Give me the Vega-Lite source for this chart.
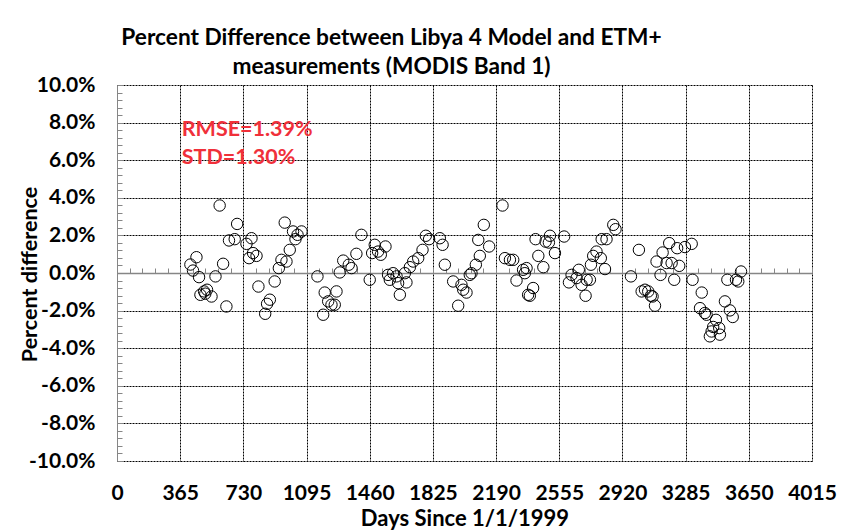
{
  "$schema": "https://vega.github.io/schema/vega-lite/v6.json",
  "width": 695,
  "height": 376,
  "autosize": {"type": "none"},
  "padding": {"left": 117, "top": 85, "right": 34, "bottom": 70},
  "background": "white",
  "config": {"view": {"stroke": null}, "font": "Lato"},
  "title": {
    "text": ["Percent Difference between Libya 4 Model and ETM+", "measurements (MODIS Band 1)"],
    "font": "Lato",
    "fontSize": 22.7,
    "fontWeight": "bold",
    "color": "black",
    "anchor": "middle",
    "dx": -73,
    "offset": -5,
    "lineHeight": 29
  },
  "resolve": {"axis": {"x": "independent"}},
  "layer": [
    {
      "data": {"values": [
        {"day": 424, "pct": 0.45}, {"day": 439, "pct": 0.13}, {"day": 459, "pct": 0.84}, {"day": 474, "pct": -0.22},
        {"day": 482, "pct": -1.16}, {"day": 503, "pct": -0.98}, {"day": 510, "pct": -1.1}, {"day": 520, "pct": -0.89},
        {"day": 546, "pct": -1.25}, {"day": 569, "pct": -0.18}, {"day": 593, "pct": 3.59}, {"day": 613, "pct": 0.49},
        {"day": 632, "pct": -1.78}, {"day": 647, "pct": 1.73}, {"day": 680, "pct": 1.8}, {"day": 694, "pct": 2.61},
        {"day": 748, "pct": 1.55}, {"day": 777, "pct": 1.85}, {"day": 786, "pct": 1.06}, {"day": 763, "pct": 0.79},
        {"day": 806, "pct": 0.91}, {"day": 817, "pct": -0.72}, {"day": 856, "pct": -2.17}, {"day": 867, "pct": -1.64},
        {"day": 883, "pct": -1.42}, {"day": 911, "pct": -0.45}, {"day": 935, "pct": 0.26}, {"day": 950, "pct": 0.7},
        {"day": 969, "pct": 2.68}, {"day": 979, "pct": 0.61}, {"day": 998, "pct": 1.23}, {"day": 1017, "pct": 2.21},
        {"day": 1031, "pct": 1.8}, {"day": 1043, "pct": 2.03}, {"day": 1066, "pct": 2.21}, {"day": 1158, "pct": -0.18},
        {"day": 1191, "pct": -2.22}, {"day": 1200, "pct": -1.04}, {"day": 1220, "pct": -1.51}, {"day": 1239, "pct": -1.69},
        {"day": 1258, "pct": -1.69}, {"day": 1268, "pct": -0.98}, {"day": 1287, "pct": 0.03}, {"day": 1307, "pct": 0.66},
        {"day": 1339, "pct": 0.44}, {"day": 1355, "pct": 0.26}, {"day": 1383, "pct": 1.02}, {"day": 1412, "pct": 2.03},
        {"day": 1460, "pct": -0.36}, {"day": 1474, "pct": 1.06}, {"day": 1489, "pct": 1.5}, {"day": 1508, "pct": 1.14},
        {"day": 1524, "pct": 0.97}, {"day": 1551, "pct": 1.41}, {"day": 1566, "pct": -0.1}, {"day": 1576, "pct": -0.36},
        {"day": 1595, "pct": -0.01}, {"day": 1615, "pct": -0.18}, {"day": 1624, "pct": -0.54}, {"day": 1634, "pct": -1.16},
        {"day": 1663, "pct": -0.01}, {"day": 1672, "pct": -0.5}, {"day": 1692, "pct": 0.31}, {"day": 1711, "pct": 0.61},
        {"day": 1740, "pct": 0.79}, {"day": 1765, "pct": 1.23}, {"day": 1784, "pct": 1.98}, {"day": 1803, "pct": 1.8},
        {"day": 1865, "pct": 1.85}, {"day": 1881, "pct": 1.5}, {"day": 1894, "pct": 0.44}, {"day": 1942, "pct": -0.45},
        {"day": 1971, "pct": -1.74}, {"day": 1990, "pct": -0.63}, {"day": 2000, "pct": -0.89}, {"day": 2019, "pct": -1.04},
        {"day": 2038, "pct": -0.1}, {"day": 2048, "pct": -0.01}, {"day": 2073, "pct": 0.44}, {"day": 2087, "pct": 1.76},
        {"day": 2096, "pct": 0.91}, {"day": 2119, "pct": 2.56}, {"day": 2150, "pct": 1.41}, {"day": 2227, "pct": 3.59},
        {"day": 2241, "pct": 0.79}, {"day": 2270, "pct": 0.7}, {"day": 2289, "pct": 0.7}, {"day": 2308, "pct": -0.4},
        {"day": 2346, "pct": 0.17}, {"day": 2356, "pct": -0.01}, {"day": 2366, "pct": 0.26}, {"day": 2375, "pct": -1.16},
        {"day": 2385, "pct": -1.21}, {"day": 2404, "pct": -0.8}, {"day": 2418, "pct": 1.8}, {"day": 2434, "pct": 0.91},
        {"day": 2463, "pct": 0.31}, {"day": 2476, "pct": 1.67}, {"day": 2495, "pct": 1.62}, {"day": 2501, "pct": 1.98},
        {"day": 2530, "pct": 1.06}, {"day": 2583, "pct": 1.94}, {"day": 2611, "pct": -0.5}, {"day": 2626, "pct": -0.1},
        {"day": 2655, "pct": -0.27}, {"day": 2668, "pct": 0.17}, {"day": 2684, "pct": -0.63}, {"day": 2707, "pct": -1.21},
        {"day": 2713, "pct": -0.36}, {"day": 2732, "pct": -0.36}, {"day": 2738, "pct": 0.44}, {"day": 2751, "pct": 0.91},
        {"day": 2770, "pct": 1.14}, {"day": 2795, "pct": 0.79}, {"day": 2800, "pct": 1.8}, {"day": 2819, "pct": 0.21},
        {"day": 2828, "pct": 1.8}, {"day": 2867, "pct": 2.56}, {"day": 2880, "pct": 2.33}, {"day": 2969, "pct": -0.18},
        {"day": 3015, "pct": 1.23}, {"day": 3031, "pct": -0.98}, {"day": 3050, "pct": -0.89}, {"day": 3069, "pct": -0.98},
        {"day": 3084, "pct": -1.21}, {"day": 3094, "pct": -1.25}, {"day": 3108, "pct": -1.74}, {"day": 3117, "pct": 0.61},
        {"day": 3140, "pct": -0.1}, {"day": 3152, "pct": 1.09}, {"day": 3175, "pct": 0.53}, {"day": 3190, "pct": 1.59},
        {"day": 3204, "pct": 0.53}, {"day": 3219, "pct": -0.36}, {"day": 3236, "pct": 1.32}, {"day": 3248, "pct": 0.38},
        {"day": 3281, "pct": 1.38}, {"day": 3320, "pct": 1.55}, {"day": 3325, "pct": -0.36}, {"day": 3368, "pct": -1.87},
        {"day": 3378, "pct": -1.04}, {"day": 3396, "pct": -2.13}, {"day": 3406, "pct": -2.22}, {"day": 3425, "pct": -3.37},
        {"day": 3435, "pct": -3.11}, {"day": 3444, "pct": -2.87}, {"day": 3460, "pct": -2.49}, {"day": 3479, "pct": -2.93},
        {"day": 3483, "pct": -3.28}, {"day": 3512, "pct": -1.51}, {"day": 3526, "pct": -0.36}, {"day": 3541, "pct": -1.99},
        {"day": 3557, "pct": -2.34}, {"day": 3576, "pct": -0.36}, {"day": 3589, "pct": -0.45}, {"day": 3605, "pct": 0.08}
      ]},
      "mark": {"type": "point", "shape": "circle", "filled": false, "stroke": "black", "strokeWidth": 1, "size": 130, "opacity": 1},
      "encoding": {
        "x": {
          "field": "day", "type": "quantitative",
          "scale": {"domain": [0, 4015], "nice": false, "zero": false},
          "axis": {
            "orient": "bottom",
            "values": [0, 365, 730, 1095, 1460, 1825, 2190, 2555, 2920, 3285, 3650, 4015],
            "tickCount": 200,
            "format": "d",
            "domain": false, "ticks": false,
            "grid": true, "gridColor": "black", "gridDash": [2, 1], "gridWidth": 1, "gridOpacity": 1,
            "labelFont": "Lato", "labelFontSize": 21, "labelFontWeight": "bold", "labelColor": "black",
            "labelPadding": 21, "labelFlush": false, "labelOverlap": false,
            "title": "Days Since 1/1/1999", "titleFont": "Lato", "titleFontSize": 22, "titleFontWeight": "bold",
            "titleColor": "black", "titlePadding": 5
          }
        },
        "y": {
          "field": "pct", "type": "quantitative",
          "scale": {"domain": [-10, 10], "nice": false, "zero": false},
          "axis": {
            "orient": "left",
            "values": [-10, -9.6, -9.2, -8.8, -8.4, -8, -7.6, -7.2, -6.8, -6.4, -6, -5.6, -5.2, -4.8, -4.4, -4, -3.6, -3.2, -2.8, -2.4, -2, -1.6, -1.2, -0.8, -0.4, 0, 0.4, 0.8, 1.2, 1.6, 2, 2.4, 2.8, 3.2, 3.6, 4, 4.4, 4.8, 5.2, 5.6, 6, 6.4, 6.8, 7.2, 7.6, 8, 8.4, 8.8, 9.2, 9.6, 10],
            "tickCount": 200,
            "domain": true, "domainColor": "#868686", "domainWidth": 1,
            "ticks": true, "tickColor": "#868686", "tickSize": -5, "tickWidth": 1,
            "grid": true, "gridColor": "black", "gridDash": [2, 1], "gridWidth": 1,
            "gridOpacity": {"condition": {"test": "abs(datum.value % 2) < 0.01", "value": 1}, "value": 0},
            "labelExpr": "abs(datum.value % 2) < 0.01 ? replace(format(datum.value, '.1f'), '\u2212', '-') + '%' : ''",
            "labelFont": "Lato", "labelFontSize": 21, "labelFontWeight": "bold", "labelColor": "black",
            "labelPadding": 27, "labelOverlap": false, "labelFlush": false,
            "title": "Percent difference", "titleFont": "Lato", "titleFontSize": 21.5, "titleFontWeight": "bold",
            "titleColor": "black", "titleAngle": -90, "titleX": -87, "titleY": 189,
            "titleAlign": "center", "titleBaseline": "middle"
          }
        }
      }
    },
    {
      "data": {"values": [
        {"day": 374, "pct": 7.61, "label": "RMSE=1.39%"},
        {"day": 374, "pct": 6.12, "label": "STD=1.30%"}
      ]},
      "mark": {"type": "text", "align": "left", "baseline": "middle", "font": "Lato", "fontSize": 21.5, "fontWeight": "bold", "color": "#F0303A"},
      "encoding": {
        "x": {
          "field": "day", "type": "quantitative",
          "axis": {
            "orient": "bottom", "offset": -188,
            "values": [0, 73, 146, 219, 292, 365, 438, 511, 584, 657, 730, 803, 876, 949, 1022, 1095, 1168, 1241, 1314, 1387, 1460, 1533, 1606, 1679, 1752, 1825, 1898, 1971, 2044, 2117, 2190, 2263, 2336, 2409, 2482, 2555, 2628, 2701, 2774, 2847, 2920, 2993, 3066, 3139, 3212, 3285, 3358, 3431, 3504, 3577, 3650, 3723, 3796, 3869, 3942, 4015],
            "tickCount": 200,
            "domain": true, "domainColor": "#868686", "domainWidth": 1.5,
            "ticks": true, "tickColor": "#868686", "tickSize": -5, "tickWidth": 1,
            "labels": false, "grid": false, "title": null
          }
        },
        "y": {"field": "pct", "type": "quantitative"},
        "text": {"field": "label", "type": "nominal"}
      }
    }
  ]
}
